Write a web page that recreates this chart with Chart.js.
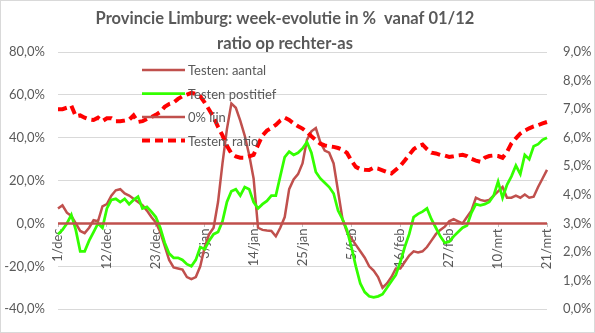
<!DOCTYPE html>
<html>
<head>
<meta charset="utf-8">
<script src="https://cdn.jsdelivr.net/npm/chart.js@4.4.1/dist/chart.umd.min.js"></script>
<style>
  html, body { margin: 0; padding: 0; background: #fff; }
  #wrap { width: 595px; height: 333px; }
</style>
</head>
<body>
<div id="wrap"><canvas id="weekChart" width="595" height="333"></canvas></div>
<script>
// days from 1/dec to 21/mrt
const months = [['dec', 31], ['jan', 31], ['feb', 28], ['mrt', 21]];
const tickLabels = ['1/dec', '12/dec', '23/dec', '3/jan', '14/jan', '25/jan', '5/feb', '16/feb', '27/feb', '10/mrt', '21/mrt'];

// week-evolutie in % (left axis)
const testenAantal = [
  7, 8.5, 5, 3.5, 0, -3.5, -4.5, -2, 1.5, 1,
  8, 9, 13, 15.5, 16, 14, 13, 11.5, 10, 8.5,
  6, 3, 0.5, -4, -10.5, -17, -20.5, -21, -21.5, -25,
  -26, -25, -20, -11, -5, -2, 10, 28, 44, 56,
  54, 48, 41, 32, 21, -2, -3, -3.3, -3.5, -6,
  -2, 3, 16, 20.5, 23, 28, 39, 43, 44.5, 38,
  34, 33, 28, 15, 2, -4, -7, -10, -13, -16,
  -20, -22, -25, -30, -28, -25, -21, -21, -18, -15,
  -13, -13.5, -13, -11, -8, -5, -3, -1.5, 1, 2,
  1, 0, 3, 6, 12, 11, 10.5, 11, 13, 15,
  17, 12, 12, 13, 12, 13.5, 12, 12.5, 17, 21,
  25
];
const testenPositief = [
  -5, -3, 0, 4, -3, -13, -13, -8, -4, 0,
  -2, 7, 11, 11.5, 10, 11.5, 9, 11, 12.5, 7,
  7.8, 5.5, 3, -2, -9, -14, -16, -16, -17, -19,
  -20, -17, -11, -12, -8, -5, -4, 1, 10, 15,
  16, 13, 17, 16, 10, 7, 9, 10.5, 13, 13,
  22, 31, 33.5, 32, 33, 35, 38, 33, 24, 21,
  19, 17, 14, 6, 2, -3, -11, -20, -28, -32,
  -34, -34.5, -34, -33, -30, -27, -24, -18, -11, -5,
  3, 4.5, 5.5, 7, 2, -2, -6, -9, -8.5, -6,
  -4, -2, -1, 5, 9, 8.5, 9, 10, 13, 19.5,
  12, 18, 22, 27, 23, 32, 30, 36, 37, 39,
  40
];
// ratio positief / aantal in % (right axis)
const testenRatio = [
  7.0, 7.0, 7.05, 7.12, 6.75, 6.78, 6.7, 6.64, 6.62, 6.7,
  6.58, 6.68, 6.68, 6.58, 6.58, 6.6, 6.63, 6.78, 6.55, 6.58,
  6.66, 6.72, 6.8, 6.9, 7.08, 7.18, 7.23, 7.36, 7.45, 7.51,
  7.57, 7.53, 7.45, 7.23, 6.98, 6.72, 6.38, 6.08, 5.72, 5.45,
  5.35, 5.3, 5.3, 5.35, 5.4, 5.75, 6.08, 6.25, 6.34, 6.45,
  6.6, 6.7, 6.62, 6.5, 6.4, 6.32, 6.2, 6.05, 5.92, 5.79,
  5.73, 5.7, 5.68, 5.64, 5.58, 5.47, 5.2, 4.98, 4.9, 4.88,
  4.87, 4.95, 4.92, 4.86, 4.8, 4.75, 4.88, 5.01, 5.2, 5.4,
  5.6, 5.7, 5.76, 5.6, 5.48, 5.45, 5.4, 5.38, 5.33, 5.35,
  5.38, 5.4, 5.36, 5.26, 5.2, 5.16, 5.3, 5.36, 5.38, 5.36,
  5.3, 5.5, 5.8, 5.98, 6.15, 6.25, 6.33, 6.4, 6.44, 6.5,
  6.55
];

const labels = [];
months.forEach(([m, n]) => {
  for (let d = 1; d <= n; d++) labels.push(d + '/' + m);
});
const nulLijn = labels.map(() => 0);

const brown = '#C0504D';
const green = '#33FF00';
const red = '#FF0000';
const grey = '#595959';
const font = 'Lato, "Open Sans", sans-serif';

const pct = v => v.toFixed(1).replace('.', ',') + '%';

// title, frame and the legend sitting inside the plot
const decorations = {
  id: 'decorations',
  beforeDraw(chart) {
    const ctx = chart.ctx;
    ctx.save();
    ctx.strokeStyle = '#D9D9D9';
    ctx.lineWidth = 1;
    ctx.strokeRect(0.5, 0.5, chart.width - 1, chart.height - 1);
    ctx.restore();
  },
  afterDatasetsDraw(chart) {
    const ctx = chart.ctx;
    ctx.save();
    ctx.fillStyle = grey;
    ctx.textAlign = 'center';
    ctx.textBaseline = 'middle';
    ctx.font = 'bold 16.5px ' + font;
    ctx.fillText('Provincie Limburg: week-evolutie in %  vanaf 01/12', 285, 19);
    ctx.fillText('ratio op rechter-as', 285, 44);

    const items = [
      { text: 'Testen: aantal', color: brown, width: 2.5, dash: [] },
      { text: 'Testen postitief', color: green, width: 2.75, dash: [] },
      { text: '0% lijn', color: brown, width: 2.5, dash: [] },
      { text: 'Testen: ratio', color: red, width: 4, dash: [8, 5] }
    ];
    ctx.textAlign = 'left';
    ctx.font = '13px ' + font;
    items.forEach((it, i) => {
      const y = 70 + i * 23.5;
      ctx.beginPath();
      ctx.setLineDash(it.dash);
      ctx.strokeStyle = it.color;
      ctx.lineWidth = it.width;
      ctx.moveTo(142, y);
      ctx.lineTo(185, y);
      ctx.stroke();
      ctx.fillStyle = grey;
      ctx.fillText(it.text, 188, y + 1);
    });
    ctx.restore();
  }
};

const weekChart = document.getElementById('weekChart');

new Chart(weekChart, {
  type: 'line',
  data: {
    labels: labels,
    datasets: [{
      label: 'Testen: aantal',
      data: testenAantal,
      borderColor: brown,
      borderWidth: 2.5,
      yAxisID: 'y',
      order: 4
    }, {
      label: 'Testen postitief',
      data: testenPositief,
      borderColor: green,
      borderWidth: 2.75,
      yAxisID: 'y',
      order: 3
    }, {
      label: '0% lijn',
      data: nulLijn,
      borderColor: brown,
      borderWidth: 2.5,
      yAxisID: 'y',
      order: 2
    }, {
      label: 'Testen: ratio',
      data: testenRatio,
      borderColor: red,
      borderWidth: 4,
      borderDash: [9, 5],
      yAxisID: 'y1',
      order: 1
    }]
  },
  options: {
    responsive: false,
    animation: false,
    events: [],
    layout: { padding: { left: 0, right: 0, top: 52, bottom: 11 } },
    elements: {
      point: { radius: 0 },
      line: { tension: 0, fill: false }
    },
    plugins: {
      legend: { display: false },
      title: { display: false },
      tooltip: { enabled: false }
    },
    scales: {
      x: {
        type: 'category',
        position: { y: 0 },
        offset: false,
        grid: { display: true, drawOnChartArea: false, color: '#BFBFBF', tickLength: 4 },
        border: { display: false },
        ticks: {
          autoSkip: false,
          maxRotation: 90,
          minRotation: 90,
          padding: 1,
          color: grey,
          font: { family: font, size: 13 },
          callback: (v, i) => tickLabels.includes(labels[i]) ? labels[i] : null
        }
      },
      y: {
        position: 'left',
        min: -40,
        max: 80,
        afterFit: s => { s.width = 58; },
        grid: { color: '#D9D9D9', lineWidth: 1, drawTicks: false },
        border: { display: false },
        ticks: {
          stepSize: 20,
          padding: 13,
          color: grey,
          font: { family: font, size: 13 },
          callback: v => pct(v)
        }
      },
      y1: {
        position: 'right',
        min: 0,
        max: 9,
        afterFit: s => { s.width = 48; },
        grid: { drawOnChartArea: false, drawTicks: false },
        border: { display: false },
        ticks: {
          stepSize: 1,
          padding: 16,
          color: grey,
          font: { family: font, size: 13 },
          callback: v => pct(v)
        }
      }
    }
  },
  plugins: [decorations]
});
</script>
</body>
</html>
